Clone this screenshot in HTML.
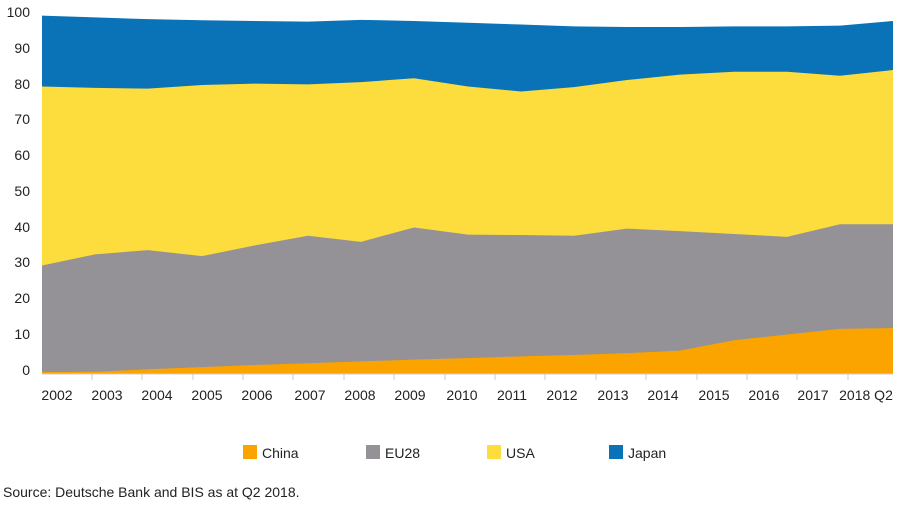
<!DOCTYPE html>
<html><head><meta charset="utf-8"><style>
body{margin:0;background:#fff;width:899px;height:504px;overflow:hidden;font-family:"Liberation Sans",sans-serif;}
</style></head><body>
<svg width="899" height="504" xmlns="http://www.w3.org/2000/svg" font-family="Liberation Sans, sans-serif">
<g transform="translate(0,370) scale(1,-3.58)">
<polygon fill="#0a73b8" points="42,-1 42,99 95,98.5 148,98 202,97.7 255,97.5 308,97.3 361,97.8 414,97.5 468,97 521,96.5 574,96 627,95.8 680,95.8 734,96 787,96 840,96.2 893,97.5 893,-1"/>
<polygon fill="#fddc3e" points="42,-1 42,79.2 95,78.8 148,78.6 202,79.6 255,80 308,79.8 361,80.4 414,81.5 468,79.2 521,77.8 574,79 627,81 680,82.5 734,83.3 787,83.3 840,82.2 893,83.8 893,-1"/>
<polygon fill="#949296" points="42,-1 42,29.2 95,32.3 148,33.5 202,31.8 255,34.8 308,37.5 361,35.8 414,39.8 468,37.8 521,37.7 574,37.5 627,39.5 680,38.8 734,38 787,37.2 840,40.7 893,40.7 893,-1"/>
<polygon fill="#fba400" points="42,-1 42,-0.6 95,-0.5 148,0.2 202,0.8 255,1.4 308,1.9 361,2.4 414,2.9 468,3.3 521,3.8 574,4.2 627,4.7 680,5.4 734,8.3 787,9.9 840,11.5 893,11.7 893,-1"/>
</g>
<line x1="42" y1="374" x2="893" y2="374" stroke="#ccc" stroke-width="1"/>
<g stroke="#ccc" stroke-width="1">
<line x1="92" y1="374" x2="92" y2="380"/><line x1="142" y1="374" x2="142" y2="380"/><line x1="193" y1="374" x2="193" y2="380"/><line x1="243" y1="374" x2="243" y2="380"/><line x1="293" y1="374" x2="293" y2="380"/><line x1="344" y1="374" x2="344" y2="380"/><line x1="394" y1="374" x2="394" y2="380"/><line x1="445" y1="374" x2="445" y2="380"/><line x1="495" y1="374" x2="495" y2="380"/><line x1="545" y1="374" x2="545" y2="380"/><line x1="596" y1="374" x2="596" y2="380"/><line x1="646" y1="374" x2="646" y2="380"/><line x1="697" y1="374" x2="697" y2="380"/><line x1="747" y1="374" x2="747" y2="380"/><line x1="797" y1="374" x2="797" y2="380"/><line x1="848" y1="374" x2="848" y2="380"/>
</g>
<g font-size="14" fill="#222" text-anchor="end">
<text x="30" y="375">0</text><text x="30" y="339">10</text><text x="30" y="303">20</text><text x="30" y="267">30</text><text x="30" y="232">40</text><text x="30" y="196">50</text><text x="30" y="160">60</text><text x="30" y="124">70</text><text x="30" y="89">80</text><text x="30" y="53">90</text><text x="30" y="17">100</text>
</g>
<g font-size="14" fill="#222" text-anchor="middle">
<text x="57" y="400">2002</text><text x="107" y="400">2003</text><text x="157" y="400">2004</text><text x="207" y="400">2005</text><text x="257" y="400">2006</text><text x="310" y="400">2007</text><text x="360" y="400">2008</text><text x="410" y="400">2009</text><text x="462" y="400">2010</text><text x="512" y="400">2011</text><text x="562" y="400">2012</text><text x="613" y="400">2013</text><text x="663" y="400">2014</text><text x="714" y="400">2015</text><text x="764" y="400">2016</text><text x="813" y="400">2017</text><text x="866" y="400">2018 Q2</text>
</g>
<g font-size="14" fill="#222">
<rect x="243" y="445" width="14" height="14" fill="#fba400"/><text x="262" y="458">China</text>
<rect x="366" y="445" width="14" height="14" fill="#949296"/><text x="385" y="458">EU28</text>
<rect x="487" y="445" width="14" height="14" fill="#fddc3e"/><text x="506" y="458">USA</text>
<rect x="609" y="445" width="14" height="14" fill="#0a73b8"/><text x="628" y="458">Japan</text>
<text x="3" y="497">Source: Deutsche Bank and BIS as at Q2 2018.</text>
</g>
</svg>
</body></html>
